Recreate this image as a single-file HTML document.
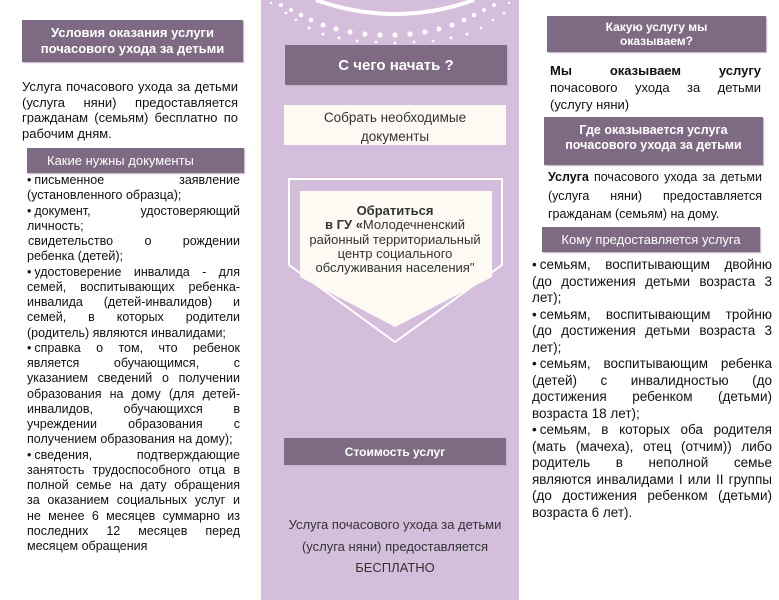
<!DOCTYPE html>
<html><head><meta charset="utf-8"><style>
*{margin:0;padding:0;box-sizing:border-box}
body{width:779px;height:600px;background:#fff;position:relative;overflow:hidden;font-family:"Liberation Sans","DejaVu Sans",sans-serif;color:#111}
.a{position:absolute}
.a div{white-space:nowrap}
.h{position:absolute;background:#7e6a82;color:#fff;text-align:center;font-weight:bold;display:flex;flex-direction:column;justify-content:center;align-items:center;box-shadow:1px 1px 1px #bfb3c3}
.j{text-align:justify;text-align-last:justify}
i{font-style:normal;margin-right:3px}
</style></head><body>
<div class="a" style="left:261px;top:0;width:258px;height:600px;background:#d5bddc"></div>
<svg class="a" style="left:261px;top:0" width="258" height="50" viewBox="0 0 258 50">
<path d="M55 0 Q134 28 213 0" stroke="#fff" stroke-width="4" fill="none"/>
<g fill="#fff">
<circle cx="20" cy="5" r="2"/><circle cx="30" cy="10" r="2"/><circle cx="40" cy="15" r="2.3"/><circle cx="50" cy="20" r="2.3"/><circle cx="62" cy="25" r="2.5"/><circle cx="75" cy="29" r="2.5"/><circle cx="89" cy="32" r="2.6"/><circle cx="104" cy="34" r="2.6"/><circle cx="119" cy="35" r="2.6"/><circle cx="134" cy="35" r="2.6"/><circle cx="149" cy="34" r="2.6"/><circle cx="164" cy="32" r="2.6"/><circle cx="178" cy="29" r="2.5"/><circle cx="191" cy="25" r="2.5"/><circle cx="203" cy="20" r="2.3"/><circle cx="213" cy="15" r="2.3"/><circle cx="223" cy="10" r="2"/><circle cx="233" cy="5" r="2"/>
<circle cx="25" cy="13" r="1.3"/><circle cx="35" cy="20" r="1.3"/><circle cx="48" cy="28" r="1.4"/><circle cx="62" cy="34" r="1.4"/><circle cx="78" cy="38" r="1.4"/><circle cx="96" cy="41" r="1.4"/><circle cx="115" cy="42" r="1.4"/><circle cx="134" cy="43" r="1.4"/><circle cx="153" cy="42" r="1.4"/><circle cx="172" cy="41" r="1.4"/><circle cx="190" cy="38" r="1.4"/><circle cx="206" cy="34" r="1.4"/><circle cx="220" cy="28" r="1.4"/><circle cx="232" cy="20" r="1.3"/><circle cx="243" cy="13" r="1.3"/>
<circle cx="10" cy="3" r="1.2"/><circle cx="248" cy="3" r="1.2"/>
</g></svg>
<div class="h" style="left:285px;top:45px;width:222px;height:40px;font-size:15px">С чего начать ?</div>
<div class="a" style="left:284px;top:105px;width:222px;height:40px;background:#fdfaf3;text-align:center;font-size:13.5px;line-height:19px;color:#333;padding-top:3px">Собрать необходимые<br>документы</div>
<svg class="a" style="left:261px;top:170px" width="258" height="180">
<polygon points="28,9 241,9 241,95 134,172 28,95" fill="none" stroke="#fff" stroke-width="2"/>
<polygon points="39,21 231,21 231,107 134,157 39,107" fill="#fdfaf3"/>
</svg>
<div class="a" style="left:300px;top:204px;width:190px;text-align:center;font-size:13px;line-height:14.3px;color:#333"><b>Обратиться</b><br><b>в ГУ «</b>Молодечненский<br>районный территориальный<br>центр социального<br>обслуживания населения"</div>
<div class="h" style="left:284px;top:438px;width:222px;height:27px;font-size:12px">Стоимость услуг</div>
<div class="a" style="left:261px;top:514px;width:268px;text-align:center;font-size:13px;line-height:21.5px;color:#333">Услуга почасового ухода за детьми<br>(услуга няни) предоставляется<br>БЕСПЛАТНО</div>

<div class="h" style="left:22px;top:20px;width:221px;height:42px;font-size:13px;line-height:16px">Условия оказания услуги<br>почасового ухода за детьми</div>
<div class="a" style="left:22px;top:79px;width:216px;font-size:13px;line-height:15.5px">
<div class="j">Услуга почасового ухода за детьми</div><div class="j">(услуга няни) предоставляется</div><div class="j">гражданам (семьям) бесплатно по</div><div>рабочим дням.</div></div>
<div class="h" style="left:27px;top:148px;width:217px;height:25px;font-size:13px;font-weight:normal;align-items:flex-start;padding-left:20px">Какие нужны документы</div>
<div class="a" style="left:27px;top:173px;width:213px;font-size:12.5px;line-height:15.25px">
<div class="j"><i>•</i>письменное заявление</div><div>(установленного образца);</div><div class="j"><i>•</i>документ, удостоверяющий</div><div>личность;</div><div class="j">&#8202;свидетельство о рождении</div><div>ребенка (детей);</div><div class="j"><i>•</i>удостоверение инвалида - для</div><div class="j">семей, воспитывающих ребенка-</div><div class="j">инвалида (детей-инвалидов) и</div><div class="j">семей, в которых родители</div><div>(родитель) являются инвалидами;</div><div class="j"><i>•</i>справка о том, что ребенок</div><div class="j">является обучающимся, с</div><div class="j">указанием сведений о получении</div><div class="j">образования на дому (для детей-</div><div class="j">инвалидов, обучающихся в</div><div class="j">учреждении образования с</div><div>получением образования на дому);</div><div class="j"><i>•</i>сведения, подтверждающие</div><div class="j">занятость трудоспособного отца в</div><div class="j">полной семье на дату обращения</div><div class="j">за оказанием социальных услуг и</div><div class="j">не менее 6 месяцев суммарно из</div><div class="j">последних 12 месяцев перед</div><div>месяцем обращения</div></div>

<div class="h" style="left:547px;top:16px;width:219px;height:36px;font-size:12px;line-height:14px">Какую услугу мы<br>оказываем?</div>
<div class="a" style="left:550px;top:62px;width:211px;font-size:13px;line-height:17px">
<div class="j"><b>Мы оказываем услугу</b></div><div class="j">почасового ухода за детьми</div><div>(услугу няни)</div></div>
<div class="h" style="left:544px;top:117px;width:219px;height:48px;font-size:12.5px;line-height:15px;padding-bottom:6px">Где оказывается услуга<br>почасового ухода за детьми</div>
<div class="a" style="left:548px;top:168px;width:214px;font-size:12.5px;line-height:18.5px">
<div class="j"><b>Услуга</b> почасового ухода за детьми</div><div class="j">(услуга няни) предоставляется</div><div>гражданам (семьям) на дому.</div></div>
<div class="h" style="left:542px;top:227px;width:218px;height:25px;font-size:13px;font-weight:normal">Кому предоставляется услуга</div>
<div class="a" style="left:532px;top:257px;width:240px;font-size:13.5px;line-height:16.5px">
<div class="j"><i>•</i>семьям, воспитывающим двойню</div><div class="j">(до достижения детьми возраста 3</div><div>лет);</div><div class="j"><i>•</i>семьям, воспитывающим тройню</div><div class="j">(до достижения детьми возраста 3</div><div>лет);</div><div class="j"><i>•</i>семьям, воспитывающим ребенка</div><div class="j">(детей) с инвалидностью (до</div><div class="j">достижения ребенком (детьми)</div><div>возраста 18 лет);</div><div class="j"><i>•</i>семьям, в которых оба родителя</div><div class="j">(мать (мачеха), отец (отчим)) либо</div><div class="j">родитель в неполной семье</div><div class="j">являются инвалидами I или II группы</div><div class="j">(до достижения ребенком (детьми)</div><div>возраста 6 лет).</div></div>
</body></html>
